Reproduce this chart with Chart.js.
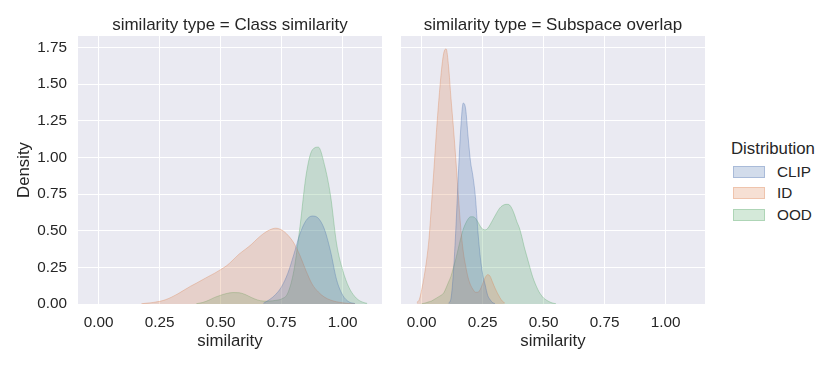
<!DOCTYPE html>
<html>
<head>
<meta charset="utf-8">
<script src="https://cdn.jsdelivr.net/npm/chart.js@4/dist/chart.umd.min.js"></script>
<style>
  body { margin: 0; background: #fff; width: 830px; height: 366px; position: relative; overflow: hidden;
         font-family: "Liberation Sans", Arial, sans-serif; color: #262626; }
  #left { position: absolute; left: 0; top: 0; }
  #right { position: absolute; left: 395px; top: 0; }
  #legend { position: absolute; left: 0; top: 0; }
  .lg { position: absolute; white-space: nowrap; line-height: 20px; height: 20px; }
  .sw { position: absolute; width: 30px; height: 10px; border: 1px solid; box-sizing: content-box; }
</style>
</head>
<body>
<canvas id="left" width="392" height="366"></canvas>
<canvas id="right" width="320" height="366"></canvas>
<div id="legend"></div>
<script>
// series names and colours (seaborn "deep")
let names = ["CLIP", "ID", "OOD"];
let colors = ["76,114,176", "221,132,82", "85,168,104"];

// panel 1: similarity type = Class similarity
let classX = [0.15, 0.175, 0.2, 0.225, 0.25, 0.275, 0.3, 0.325, 0.35, 0.375, 0.4, 0.425, 0.45, 0.475, 0.5,
  0.525, 0.55, 0.575, 0.6, 0.625, 0.65, 0.675, 0.7, 0.725, 0.75, 0.775, 0.8, 0.825, 0.85, 0.875, 0.9,
  0.925, 0.95, 0.975, 1.0, 1.025, 1.05, 1.075, 1.1];
let classCLIP = [null, null, null, null, null, null, null, null, null, null, null, null, null, null, null,
  null, null, null, null, null, null, 0.005, 0.03, 0.065, 0.12, 0.21, 0.34, 0.48, 0.57, 0.60, 0.585,
  0.51, 0.36, 0.165, 0.06, 0.015, 0.003, null, null];
let classID = [null, 0.002, 0.006, 0.011, 0.018, 0.03, 0.048, 0.07, 0.095, 0.12, 0.142, 0.165, 0.188, 0.21, 0.235,
  0.262, 0.3, 0.34, 0.372, 0.405, 0.445, 0.48, 0.505, 0.517, 0.505, 0.47, 0.415, 0.33, 0.225, 0.135, 0.082,
  0.047, 0.027, 0.015, 0.008, 0.003, 0.001, null, null];
let classOOD = [null, null, null, null, null, null, null, null, null, null, 0.002, 0.01, 0.025, 0.045, 0.06,
  0.072, 0.078, 0.077, 0.065, 0.045, 0.028, 0.02, 0.02, 0.025, 0.035, 0.075, 0.23, 0.53, 0.88, 1.05, 1.07,
  0.95, 0.74, 0.41, 0.23, 0.115, 0.05, 0.017, 0.004];

// panel 2: similarity type = Subspace overlap
let subX = [-0.03, -0.02, -0.01, 0.0, 0.01, 0.02, 0.03, 0.04, 0.05, 0.06, 0.07, 0.08, 0.09, 0.1, 0.11, 0.12,
  0.13, 0.14, 0.15, 0.16, 0.17, 0.18, 0.19, 0.2, 0.21, 0.22, 0.23, 0.24, 0.25, 0.26, 0.27, 0.28, 0.29, 0.3,
  0.31, 0.32, 0.33, 0.34, 0.35, 0.36, 0.37, 0.38, 0.39, 0.4, 0.41, 0.42, 0.43, 0.44, 0.45, 0.46, 0.47, 0.48,
  0.49, 0.5, 0.51, 0.52, 0.53, 0.54, 0.55];
let subCLIP = [null, null, null, null, null, null, null, null, null, null, null, null, null, null,
  0.005, 0.04, 0.22, 0.52, 0.88, 1.2, 1.37, 1.33, 1.14, 0.97, 0.87, 0.73, 0.5, 0.32, 0.2, 0.13, 0.06, 0.03,
  0.01, 0.003, null, null, null, null, null, null, null, null, null, null, null, null, null, null, null, null,
  null, null, null, null, null, null, null, null, null];
let subID = [null, 0.01, 0.03, 0.1, 0.19, 0.3, 0.45, 0.68, 0.92, 1.17, 1.39, 1.58, 1.71, 1.74, 1.62, 1.4,
  1.2, 0.98, 0.74, 0.52, 0.36, 0.26, 0.18, 0.13, 0.1, 0.08, 0.08, 0.1, 0.14, 0.18, 0.2, 0.19, 0.15, 0.11,
  0.075, 0.045, 0.02, 0.008, null, null, null, null, null, null, null, null, null, null, null, null, null, null,
  null, null, null, null, null, null, null];
let subOOD = [null, null, null, 0.002, 0.005, 0.01, 0.015, 0.02, 0.03, 0.04, 0.05, 0.06, 0.075, 0.11, 0.15, 0.19,
  0.25, 0.31, 0.38, 0.45, 0.51, 0.55, 0.58, 0.595, 0.595, 0.585, 0.56, 0.53, 0.51, 0.505, 0.515, 0.54, 0.57, 0.6,
  0.63, 0.655, 0.67, 0.678, 0.68, 0.675, 0.65, 0.61, 0.56, 0.52, 0.46, 0.39, 0.33, 0.27, 0.21, 0.16, 0.12, 0.085,
  0.06, 0.04, 0.028, 0.018, 0.01, 0.005, 0.002];

let xTicksStep = 0.25;
let yTicksStep = 0.25;

let tickFont = { family: "Liberation Sans", size: 15.3 };
let labelFont = { family: "Liberation Sans", size: 16.8, lineHeight: 1.2 };

// grey plot background like seaborn darkgrid
const plotBg = {
  id: "plotBg",
  beforeDraw(chart) {
    let a = chart.chartArea;
    let ctx = chart.ctx;
    ctx.save();
    ctx.fillStyle = "#EAEAF2";
    ctx.fillRect(a.left, a.top, a.right - a.left, a.bottom - a.top);
    ctx.restore();
  }
};

function makePanel(id, title, xs, values, showY) {
  let datasets = values.map(function (vals, i) {
    return {
      label: names[i],
      data: xs.map((x, j) => ({ x: x, y: vals[j] })),
      fill: "origin",
      backgroundColor: "rgba(" + colors[i] + ",0.25)",
      borderColor: "rgba(" + colors[i] + ",0.35)",
      borderWidth: 1,
      pointRadius: 0,
      cubicInterpolationMode: "monotone",
      spanGaps: false
    };
  });

  return new Chart(document.getElementById(id), {
    type: "line",
    data: { datasets: datasets },
    options: {
      responsive: false,
      animation: false,
      layout: { padding: { top: 0, right: 10, bottom: 0, left: 0 } },
      plugins: {
        legend: { display: false },
        tooltip: { enabled: false },
        title: {
          display: true,
          text: title,
          fullSize: false,
          color: "#262626",
          font: { family: "Liberation Sans", size: 17, weight: "normal", lineHeight: 1.2 },
          padding: { top: 15.5, bottom: 0.1 }
        }
      },
      scales: {
        x: {
          type: "linear",
          min: -0.085,
          max: 1.161,
          border: { display: false },
          grid: { color: "#ffffff", lineWidth: 1, drawTicks: false },
          ticks: {
            stepSize: xTicksStep,
            includeBounds: false,
            padding: 9.5,
            color: "#262626",
            font: tickFont,
            callback: v => v.toFixed(2)
          },
          title: {
            display: true,
            text: "similarity",
            color: "#262626",
            font: labelFont,
            padding: { top: 0, bottom: 14.4 }
          },
          afterFit: s => { s.height = 62; }
        },
        y: {
          min: 0,
          max: 1.828,
          border: { display: false },
          grid: { color: "#ffffff", lineWidth: 1, drawTicks: false },
          ticks: {
            display: showY,
            stepSize: yTicksStep,
            includeBounds: false,
            padding: 11,
            color: "#262626",
            font: tickFont,
            callback: v => v.toFixed(2)
          },
          title: {
            display: showY,
            text: "Density",
            color: "#262626",
            font: labelFont,
            padding: { top: 14.3, bottom: 0 }
          },
          afterFit: s => { s.width = showY ? 78 : 6; }
        }
      }
    },
    plugins: [plotBg]
  });
}

makePanel("left", "similarity type = Class similarity", classX, [classCLIP, classID, classOOD], true);
makePanel("right", "similarity type = Subspace overlap", subX, [subCLIP, subID, subOOD], false);

// legend
let legend = document.getElementById("legend");
let t = document.createElement("div");
t.className = "lg";
t.style.left = "731px";
t.style.top = "139px";
t.style.fontSize = "16.8px";
t.innerText = "Distribution";
legend.appendChild(t);
names.forEach(function (name, i) {
  let cy = 171.5 + i * 21.5;
  let sw = document.createElement("div");
  sw.className = "sw";
  sw.style.left = "733px";
  sw.style.top = (cy - 6) + "px";
  sw.style.background = "rgba(" + colors[i] + ",0.25)";
  sw.style.borderColor = "rgba(" + colors[i] + ",0.3)";
  legend.appendChild(sw);
  let lb = document.createElement("div");
  lb.className = "lg";
  lb.style.left = "777px";
  lb.style.top = (cy - 10) + "px";
  lb.style.fontSize = "15.3px";
  lb.innerText = name;
  legend.appendChild(lb);
});
</script>
</body>
</html>
